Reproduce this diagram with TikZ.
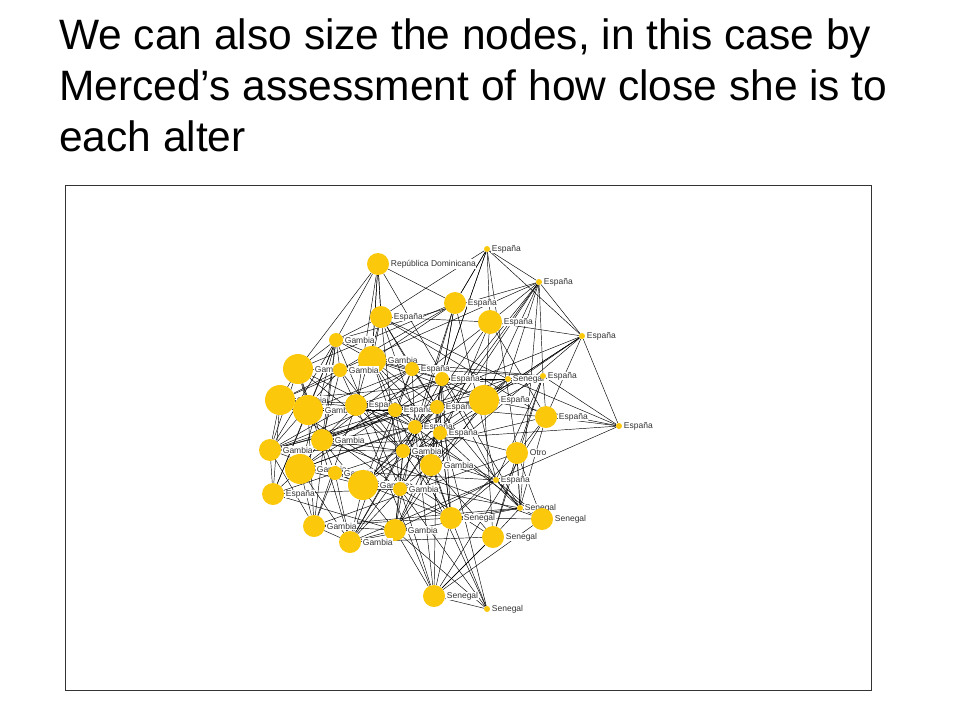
\documentclass[tikz,border=0pt]{standalone}
\usepackage{fontspec}
\setmainfont{Liberation Sans}
\usetikzlibrary{backgrounds}
\definecolor{gold}{HTML}{FCC80C}
\begin{document}
\begin{tikzpicture}[x=1pt,y=-1pt,
  nd/.style={circle,fill=gold,inner sep=0pt,minimum size=#1},
  lbl/.style={font=\fontsize{8.5}{9}\selectfont,text=black!80,inner sep=0.5pt,fill=white,label distance=1pt},
  edge/.style={black,line width=0.45pt}]
\useasboundingbox (0,0) rectangle (960,720);
\node[anchor=north west,align=left,font=\fontsize{42.5}{51}\selectfont,inner sep=0pt] (title) at (59,19)
 {We can also size the nodes, in this case by\\Merced’s assessment of how close she is to\\each alter};
\draw[black!80,line width=0.7pt] (65,185) rectangle (871,690);
\foreach \n/\x/\y/\r/\t in {
1/487/249/3/España, 2/378/264/11/República Dominicana, 3/539/282/3/España, 4/455/303/11/España,
5/490/322/12/España, 6/381/317/11/España, 7/582/336/3/España, 8/336/340/7/Gambia,
9/298/369/15/Gambia, 10/372/360/14/Gambia, 11/340/370/7/Gambia, 12/412/369/7/España,
13/442/379/7/España, 14/508/379/3/Senegal, 15/543/376/3/España, 16/280/400/15/Gambia,
17/308/410/15/Gambia, 18/356/405/11/España, 19/395/410/7/España, 20/437/407/7/España,
21/484/400/15/España, 22/546/417/11/España, 23/619/426/3/España, 24/415/427/7/España,
25/440/433/7/España, 26/322/440/11/Gambia, 27/270/450/11/Gambia, 28/403/451/7/Gambia,
29/431/465/11/Gambia, 30/517/453/11/Otro, 31/300/469/15/Gambia, 32/335/473/7/Gambia,
33/363/485/15/Gambia, 34/400/489/7/Gambia, 35/496/480/3/España, 36/273/494/11/España,
37/520/508/3/Senegal, 38/542/519/11/Senegal, 39/451/518/11/Senegal, 40/314/526/11/Gambia,
41/395/530/11/Gambia, 42/493/537/11/Senegal, 43/350/542/11/Gambia, 44/434/596/11/Senegal,
45/487/609/3/Senegal}
  \node[nd=2*\r pt,label={[lbl]right:\t}] (n\n) at (\x,\y) {};
\def\XS{{0,487,378,539,455,490,381,582,336,298,372,340,412,442,508,543,280,308,356,395,437,484,546,619,415,440,322,270,403,431,517,300,335,363,400,496,273,520,542,451,314,395,493,350,434,487}}
\def\YS{{0,249,264,282,303,322,317,336,340,369,360,370,369,379,379,376,400,410,405,410,407,400,417,426,427,433,440,450,451,465,453,469,473,485,489,480,494,508,519,518,526,530,537,542,596,609}}
\begin{scope}[on background layer]
\pgfmathsetseed{11}
\foreach \i in {1,...,44}{
  \pgfmathtruncatemacro\s{\i+1}
  \foreach \j in {\s,...,45}{
    \pgfmathsetmacro\d{veclen(\XS[\i]-\XS[\j],\YS[\i]-\YS[\j])}
    \pgfmathtruncatemacro\ok{rnd<1.1*exp(-\d/80)?1:0}
    \ifnum\ok=1 \draw[edge] (n\i) -- (n\j);\fi
  }}
\foreach \a/\b in {23/7,23/22,23/21,23/15,1/7,1/3,3/7,7/21,7/22,7/5,1/4,1/5,1/13,3/5,3/21,3/14,45/44,44/42,45/39,45/41,44/39,44/34,44/38,2/6,2/10,2/18,6/12,30/38,37/42,37/30}
  \draw[edge] (n\a) -- (n\b);
\end{scope}
\end{tikzpicture}
\end{document}
